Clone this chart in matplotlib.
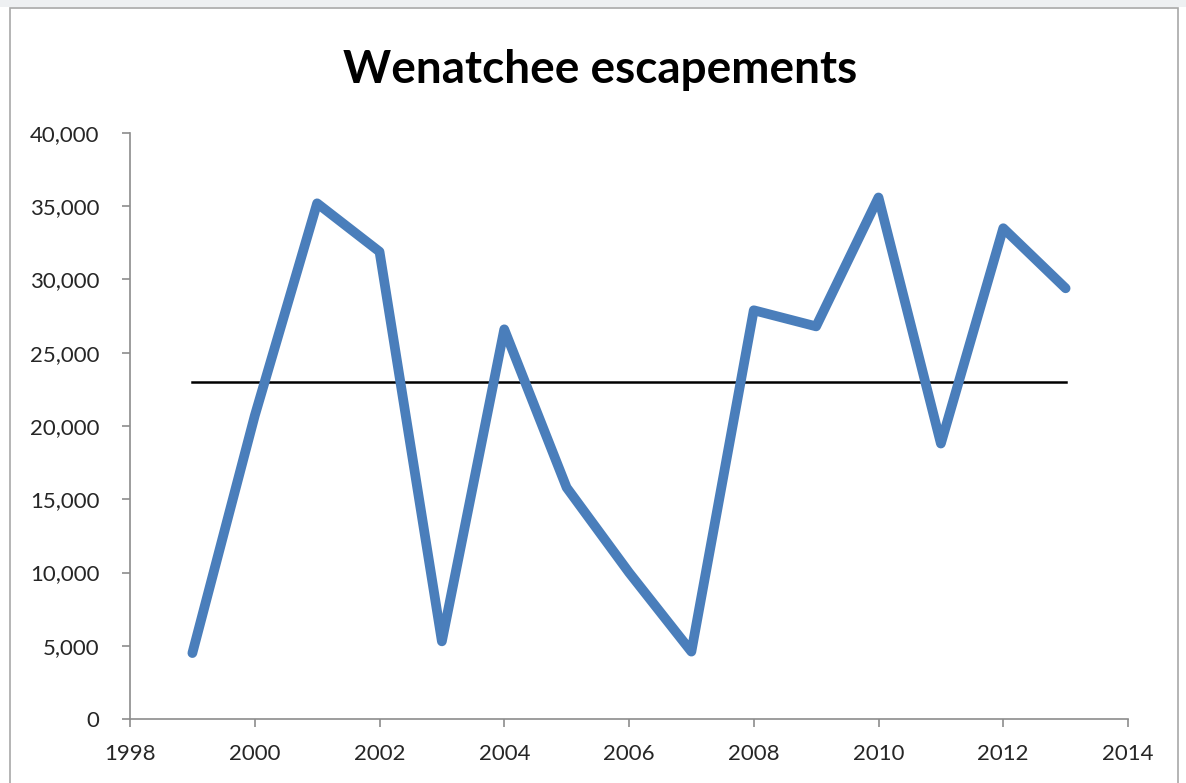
import matplotlib
matplotlib.use("Agg")
import matplotlib.pyplot as plt
from matplotlib.ticker import FuncFormatter, MultipleLocator
from matplotlib.patches import Rectangle

plt.rcParams['font.family'] = ['Lato', 'DejaVu Sans']

years = [1999, 2000, 2001, 2002, 2003, 2004, 2005, 2006, 2007,
         2008, 2009, 2010, 2011, 2012, 2013]
escapement = [4500, 20700, 35200, 31900, 5300, 26600, 15800, 10000, 4600,
              27900, 26800, 35600, 18800, 33500, 29400]
goal_years = [1999, 2013]
goal_level = [23000, 23000]

fig = plt.figure(figsize=(11.86, 7.83), dpi=100)
fig.patch.set_facecolor('white')

# light strip along the top and the chart-area frame
fig.add_artist(Rectangle((0, 1 - 7 / 783), 1, 7 / 783, transform=fig.transFigure,
                         facecolor='#eef0f2', edgecolor='none', zorder=0))
fig.add_artist(Rectangle((10 / 1186, -0.01), (1178 - 10) / 1186, 1 - 8 / 783 + 0.01,
                         transform=fig.transFigure, facecolor='white',
                         edgecolor='#a8a8a8', linewidth=1.2, zorder=0))

ax = fig.add_axes([130 / 1186, 1 - 719 / 783, (1128 - 130) / 1186, (719 - 133) / 783])
ax.set_facecolor('none')

ax.plot(years, escapement, color='#4a7ebb', linewidth=7,
        solid_capstyle='round', solid_joinstyle='round', zorder=3)
ax.plot(goal_years, goal_level, color='black', linewidth=1.8, zorder=2)

ax.set_xlim(1998, 2014)
ax.set_ylim(0, 40000)
ax.xaxis.set_major_locator(MultipleLocator(2))
ax.yaxis.set_major_locator(MultipleLocator(5000))
ax.yaxis.set_major_formatter(FuncFormatter(lambda v, p: f"{int(v):,}"))

for side in ('top', 'right'):
    ax.spines[side].set_visible(False)
for side in ('left', 'bottom'):
    ax.spines[side].set_color('#8c8c8c')
    ax.spines[side].set_linewidth(1.2)

ax.tick_params(axis='both', colors='#8c8c8c', direction='out', length=6, width=1.2,
               labelcolor='#262626', labelsize=16)
ax.tick_params(axis='y', pad=16)
ax.tick_params(axis='x', pad=12)

fig.text(0.506, 1 - 70 / 783, 'Wenatchee escapements', ha='center', va='center',
         fontsize=33, fontweight='bold', color='black')

fig.savefig('out.png', dpi=100)
